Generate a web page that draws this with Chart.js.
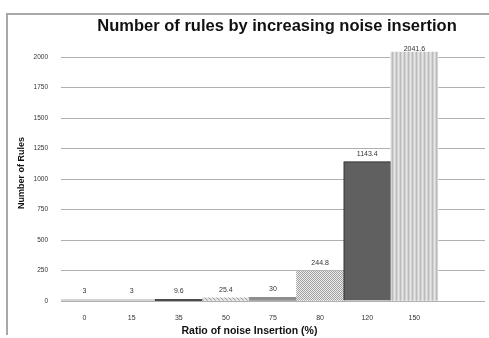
<!DOCTYPE html>
<html><head><meta charset="utf-8">
<script src="https://cdn.jsdelivr.net/npm/chart.js@4"></script>
<style>
html,body{margin:0;padding:0;background:#fff;}
#wrap{position:relative;width:489px;height:338px;overflow:hidden;}
#frame{position:absolute;left:6px;top:13px;width:483px;height:320px;border-left:2px solid #a8a8a8;border-top:2px solid #a8a8a8;}
canvas{position:absolute;left:0;top:0;}
</style></head><body>
<div id="wrap"><div id="frame"></div><canvas id="c" width="489" height="338"></canvas></div>
<script>
const categories = ['0','15','35','50','75','80','120','150',''];
const ruleCounts = [3,3,9.6,25.4,30,244.8,1143.4,2041.6,null];
const yTicks = [0,250,500,750,1000,1250,1500,1750,2000];
const chartTitle = 'Number of rules by increasing noise insertion';
const xTitle = 'Ratio of noise Insertion (%)';
const yTitle = 'Number of Rules';

function pat(w,h,draw){const c=document.createElement('canvas');c.width=w;c.height=h;const x=c.getContext('2d');draw(x);return x.createPattern(c,'repeat');}
const stripes = pat(4,1,x=>{x.fillStyle='#d4d4d4';x.fillRect(0,0,4,1);x.fillStyle='#bababa';x.fillRect(0,0,1,1);x.fillStyle='#e6e6e6';x.fillRect(2,0,1,1);});
const checker = pat(2,2,x=>{x.fillStyle='#ececec';x.fillRect(0,0,2,2);x.fillStyle='#a2a2a2';x.fillRect(0,0,1,1);x.fillRect(1,1,1,1);});
const hatch = pat(4,4,x=>{x.fillStyle='#e2e2e2';x.fillRect(0,0,4,4);x.fillStyle='#9a9a9a';for(let i=0;i<4;i++)x.fillRect(i,(i+1)%4,1,1);});

const fills = ['#c6c6c6','#c6c6c6','#111111',hatch,'#8e8e8e',checker,'#606060',stripes,'#fff'];
const borders = ['#c6c6c6','#c6c6c6','#111111','#9a9a9a','#8e8e8e','#a2a2a2','#1e1e1e','#c0c0c0','#fff'];
const borderWidths = [0,0,0,0,0,0,1,0,0];
const FONT = '"Liberation Sans", Arial, sans-serif';

const textPlugin = {
  id:'texts',
  afterDatasetsDraw(chart){
    const {ctx, chartArea} = chart;
    const meta = chart.getDatasetMeta(0);
    ctx.save();
    ctx.fillStyle='#333'; ctx.textAlign='center'; ctx.textBaseline='middle';
    ctx.font='7px '+FONT;
    meta.data.forEach((bar,i)=>{
      const v = ruleCounts[i];
      if (v===null) return;
      const yy = Math.max(bar.y-8, chartArea.top+4);
      ctx.fillText(String(v), bar.x, yy);
    });
    ctx.restore();
  },
  afterDraw(chart){
    const {ctx, scales:{x}} = chart;
    ctx.save();
    ctx.fillStyle='#111'; ctx.textAlign='center'; ctx.textBaseline='middle';
    ctx.font='bold 16.5px '+FONT;
    ctx.fillText(chartTitle, 277, 26);
    ctx.font='bold 10.5px '+FONT;
    const cx = (x.getPixelForValue(0)+x.getPixelForValue(7))/2;
    ctx.fillText(xTitle, cx, 331);
    ctx.restore();
  }
};

new Chart(document.getElementById('c'), {
  type:'bar',
  data:{labels:categories, datasets:[{
    data:ruleCounts,
    backgroundColor:fills,
    borderColor:borders,
    borderWidth:borderWidths,
    borderSkipped:'bottom',
    barPercentage:1,
    categoryPercentage:1,
    minBarLength:1.5
  }]},
  options:{
    responsive:false,
    animation:false,
    events:[],
    layout:{padding:{top:45,right:4,left:0,bottom:0}},
    plugins:{legend:{display:false},title:{display:false},tooltip:{enabled:false}},
    scales:{
      x:{
        grid:{display:false},
        border:{display:false},
        ticks:{font:{size:7,family:FONT},color:'#333',padding:5,maxRotation:0,autoSkip:false},
        afterFit(s){s.height=37;}
      },
      y:{
        min:0,max:2100,
        afterBuildTicks(s){s.ticks=yTicks.map(v=>({value:v}));},
        grid:{color:'#b0b0b0',lineWidth:1,drawTicks:false},
        border:{display:false},
        ticks:{font:{size:6.5,family:FONT},color:'#333',padding:13,callback:v=>String(v)},
        title:{display:true,text:yTitle,font:{size:9,weight:'bold',family:FONT},color:'#111',padding:{top:16,bottom:0}},
        afterFit(s){s.width=61;}
      }
    }
  },
  plugins:[textPlugin]
});
</script>
</body></html>
